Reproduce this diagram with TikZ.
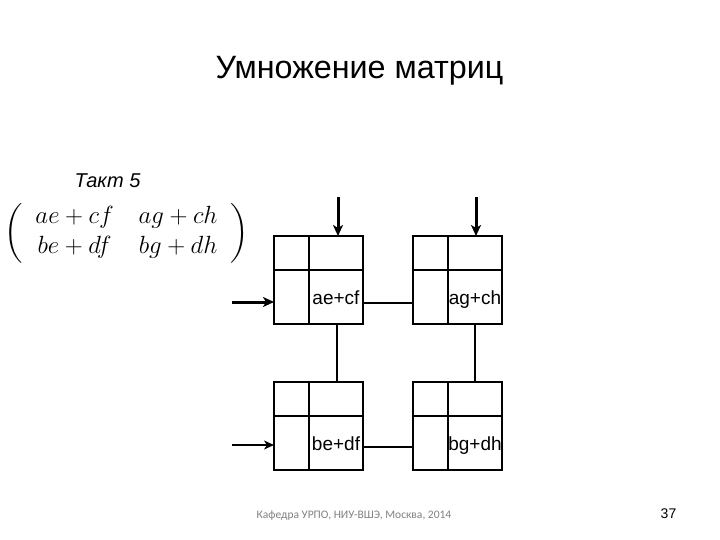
\documentclass[tikz,border=0pt]{standalone}
\usepackage{amsmath}
\usepackage{fontspec}
\setmainfont{Liberation Sans}
\newfontfamily\footfont{Carlito}
\usetikzlibrary{positioning,arrows.meta}
\tikzset{%
  title/.style={font=\fontsize{32.3}{36}\selectfont},
  tact/.style={font=\fontsize{20}{24}\selectfont\itshape},
  cell/.style={draw, line width=2, inner sep=0, outer sep=0, text height=14.5pt, text depth=0pt, font=\fontsize{19}{22}\selectfont},
  link/.style={line width=2},
  feed/.style={line width=3, -{Stealth[length=11pt, width=10pt, inset=3pt]}},
  feedthin/.style={line width=2, -{Stealth[length=10pt, width=9pt, inset=3pt]}},
  footer/.style={text=gray, font=\fontsize{11.5}{14}\selectfont\footfont}
}
% #1 name, #2 x of left edge, #3 y of top edge, #4 result
\newcommand*{\pblock}[4]{
  \node[cell, minimum width=35, minimum height=34] (#1tl) at (#2+17.5, #3+17) {};
  \node[cell, minimum width=54, minimum height=34, right=0 of #1tl] (#1tr) {};
  \node[cell, minimum width=35, minimum height=54, below=0 of #1tl] (#1bl) {};
  \node[cell, minimum width=54, minimum height=54, right=0 of #1bl] (#1br) {#4};
}
\begin{document}
\begin{tikzpicture}[x=1pt, y=-1pt]
\useasboundingbox (0,0) rectangle (720,540);
\node[title] (head) at (359.5, 71) {Умножение матриц};
\node[tact] (tact) at (107.5, 181) {Такт 5};
\node[font=\fontsize{24}{30}\selectfont] (result) at (126.5, 233) {\setlength{\arraycolsep}{12.5pt}$\left(\begin{array}{cc} ae+cf & ag+ch \\ be+df & bg+dh \end{array}\right)$};
\pblock{a}{274}{236}{ae+cf}
\pblock{b}{413}{236}{ag+ch}
\pblock{c}{274}{382}{be+df}
\pblock{d}{413}{382}{bg+dh}
\coordinate (ina) at (338, 197);
\coordinate (inb) at (476, 197);
\coordinate (inc) at (232, 302);
\coordinate (ind) at (232, 445);
\draw[feed] (ina) -- (ina |- atr.north);
\draw[feed] (inb) -- (inb |- btr.north);
\draw[feed] (inc) -- (inc -| abl.west);
\draw[feedthin] (ind) -- (ind -| cbl.west);
\draw[link] ([yshift=-6]abr.east) -- ([yshift=-6]bbl.west);
\draw[link] ([yshift=-4]cbr.east) -- ([yshift=-4]dbl.west);
\draw[link] ([xshift=1]abr.south) -- ([xshift=1]ctr.north);
\draw[link] (bbr.south) -- (dtr.north);
\node[footer] (dept) at (354, 516) {Кафедра УРПО, НИУ-ВШЭ, Москва, 2014};
\node[font=\fontsize{14}{16}\selectfont] (page) at (668.5, 514) {37};
\end{tikzpicture}
\end{document}
